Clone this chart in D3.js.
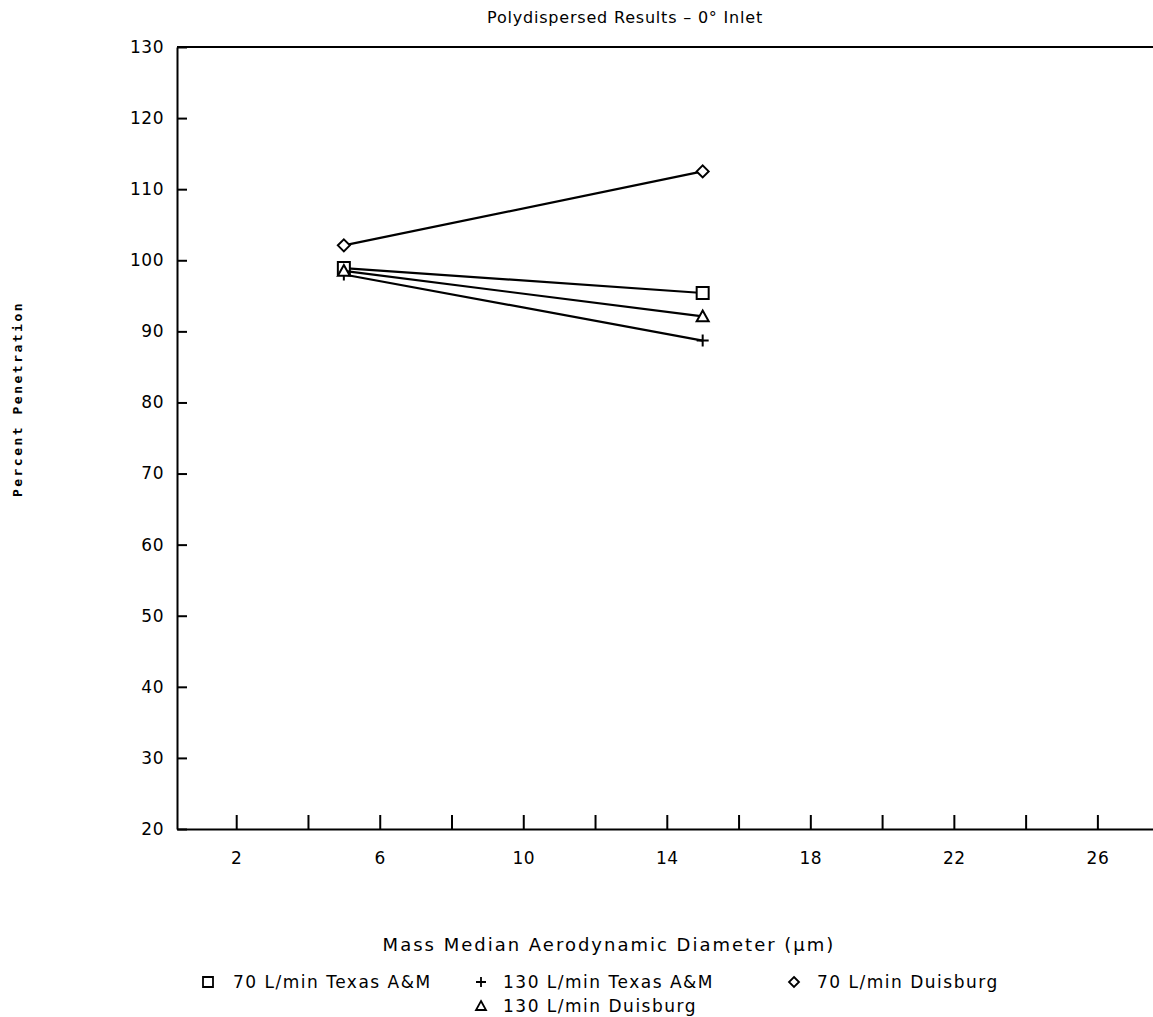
<!DOCTYPE html>
<html>
<head>
<meta charset="utf-8">
<script src="https://cdn.jsdelivr.net/npm/d3@7"></script>
<style>
  html, body { margin: 0; padding: 0; background: #fff; }
  svg { display: block; }
  text { fill: #000; }
</style>
</head>
<body>
<svg id="chart" width="1153" height="1017"></svg>
<script>
// Particle size (mass median aerodynamic diameter, µm)
const diameters = [5, 15];

// Percent penetration for each test condition
const texas70 = [98.9, 95.4];
const texas130 = [98.0, 88.7];
const duisburg70 = [102.1, 112.5];
const duisburg130 = [98.5, 92.1];

const seriesNames = [
  "70 L/min Texas A&M",
  "130 L/min Texas A&M",
  "70 L/min Duisburg",
  "130 L/min Duisburg"
];
const seriesValues = [texas70, texas130, duisburg70, duisburg130];
const seriesSymbols = ["square", "plus", "diamond", "triangle"];

const xTicks = [2, 4, 6, 8, 10, 12, 14, 16, 18, 20, 22, 24, 26];
const xLabelled = [2, 6, 10, 14, 18, 22, 26];
const yTicks = [20, 30, 40, 50, 60, 70, 80, 90, 100, 110, 120, 130];

const svg = d3.select("#chart");
const FONT = "'DejaVu Sans', sans-serif";

const x = d3.scaleLinear().domain([0.35, 27.55]).range([177, 1153]);
const y = d3.scaleLinear().domain([20, 130]).range([829, 47]);

// Axes: ticks point inward
const yAxis = d3.axisLeft(y).tickValues(yTicks).tickSize(-10).tickSizeOuter(0).tickPadding(13);
const xAxis = d3.axisBottom(x).tickValues(xTicks).tickSize(-14).tickSizeOuter(0).tickPadding(23)
  .tickFormat(d => xLabelled.includes(d) ? d : "");

const gy = svg.append("g").attr("transform", `translate(${x.range()[0]},0)`).call(yAxis);
const gx = svg.append("g").attr("transform", `translate(0,${y.range()[0]})`).call(xAxis);

[gx, gy].forEach(g => {
  g.selectAll("path, line").attr("stroke", "#000").attr("stroke-width", 2);
  g.selectAll("text").attr("font-family", FONT).attr("font-size", 17)
    .attr("letter-spacing", 0.5).attr("fill", "#000");
});

// Top frame line
svg.append("line")
  .attr("x1", x.range()[0]).attr("x2", x.range()[1])
  .attr("y1", y.range()[1]).attr("y2", y.range()[1])
  .attr("stroke", "#000").attr("stroke-width", 2);

// Title
svg.append("text")
  .attr("x", 625).attr("y", 23)
  .attr("text-anchor", "middle")
  .attr("font-family", FONT).attr("font-size", 16)
  .attr("letter-spacing", 0.8)
  .text("Polydispersed Results \u2013 0\u00b0 Inlet");

// Y axis title
svg.append("text")
  .attr("transform", "translate(22,399) rotate(-90)")
  .attr("text-anchor", "middle")
  .attr("font-family", "'DejaVu Sans Mono', monospace")
  .attr("font-weight", "bold")
  .attr("font-size", 13)
  .attr("letter-spacing", 2.5)
  .text("Percent Penetration");

// X axis title
svg.append("text")
  .attr("x", 609).attr("y", 951)
  .attr("text-anchor", "middle")
  .attr("font-family", FONT).attr("font-size", 18)
  .attr("letter-spacing", 2)
  .text("Mass Median Aerodynamic Diameter (\u03bcm)");

// Marker shapes
function symbolPath(kind, s) {
  switch (kind) {
    case "square": return `M${-s},${-s}H${s}V${s}H${-s}Z`;
    case "plus": return `M${-s},0H${s}M0,${-s}V${s}`;
    case "diamond": return `M0,${-s}L${s},0L0,${s}L${-s},0Z`;
    case "triangle": return `M0,${-s}L${s},${s * 0.8}H${-s}Z`;
  }
}

const line = d3.line().x(d => x(d[0])).y(d => y(d[1]));

seriesValues.forEach((vals, i) => {
  const pts = diameters.map((d, j) => [d, vals[j]]);
  svg.append("path")
    .attr("d", line(pts))
    .attr("fill", "none").attr("stroke", "#000").attr("stroke-width", 2.2);
  svg.selectAll(null).data(pts).enter().append("path")
    .attr("transform", d => `translate(${x(d[0])},${y(d[1])})`)
    .attr("d", symbolPath(seriesSymbols[i], 6))
    .attr("fill", "#fff").attr("stroke", "#000").attr("stroke-width", 2);
});

// Legend
const legendPos = [
  { sx: 208, tx: 233, y: 988 },
  { sx: 481, tx: 503, y: 988 },
  { sx: 794, tx: 817, y: 988 },
  { sx: 481, tx: 503, y: 1012 }
];
seriesNames.forEach((name, i) => {
  const p = legendPos[i];
  svg.append("path")
    .attr("transform", `translate(${p.sx},${p.y - 6})`)
    .attr("d", symbolPath(seriesSymbols[i], 5))
    .attr("fill", "none").attr("stroke", "#000").attr("stroke-width", 1.8);
  svg.append("text")
    .attr("x", p.tx).attr("y", p.y)
    .attr("font-family", FONT).attr("font-size", 17)
    .attr("letter-spacing", 1.5)
    .text(name);
});
</script>
</body>
</html>
